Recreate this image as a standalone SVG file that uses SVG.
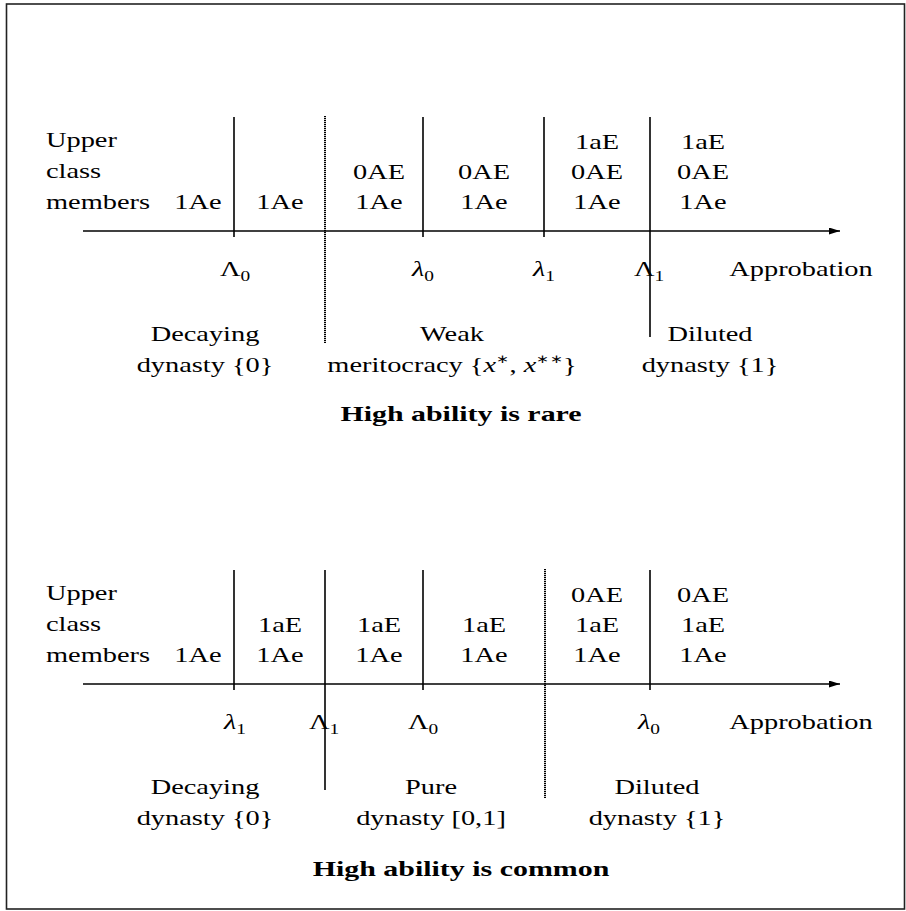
<svg xmlns="http://www.w3.org/2000/svg" width="906" height="911" viewBox="0 0 906 911">
<defs>
<style>
text{font-family:"Liberation Serif","Times New Roman",serif;font-size:22px;fill:#000;}
.c{text-anchor:middle;}
.b{font-weight:bold;}
.i{font-style:italic;}
.sub{font-size:15px;}
.sup{font-size:12px;}
.ln{stroke:#000;stroke-width:1.6;fill:none;}
.dot{stroke:#000;stroke-width:2;fill:none;stroke-dasharray:1.2 0.8;}
.ax{stroke:#000;stroke-width:1.6;fill:none;marker-end:url(#arr);}
</style>
<marker id="arr" markerUnits="userSpaceOnUse" markerWidth="12" markerHeight="8" refX="11" refY="3.5" orient="auto">
<path d="M0,0 L11,3.5 L0,7 z" fill="#000"/>
</marker>
</defs>
<rect x="6.5" y="4" width="898" height="905" fill="#fff" stroke="#222" stroke-width="1.6"/>

<g id="panel-rare">
<g id="connectors-rare">
<line class="ax" x1="83" y1="231" x2="840" y2="231"/>
<line class="ln" x1="234" y1="117" x2="234" y2="237"/>
<line class="dot" x1="325" y1="116" x2="325" y2="343"/>
<line class="ln" x1="423" y1="117" x2="423" y2="237"/>
<line class="ln" x1="544" y1="117" x2="544" y2="237"/>
<line class="ln" x1="650" y1="117" x2="650" y2="337"/>
</g>
<g id="labels-rare">
<text transform="matrix(1.29 0 0 1 46 147)">Upper</text>
<text transform="matrix(1.29 0 0 1 46 178)">class</text>
<text transform="matrix(1.29 0 0 1 46 209)">members</text>
<text class="c" transform="matrix(1.29 0 0 1 198 209)">1Ae</text>
<text class="c" transform="matrix(1.29 0 0 1 280 209)">1Ae</text>
<text class="c" transform="matrix(1.29 0 0 1 379 179)">0AE</text>
<text class="c" transform="matrix(1.29 0 0 1 379 209)">1Ae</text>
<text class="c" transform="matrix(1.29 0 0 1 484 179)">0AE</text>
<text class="c" transform="matrix(1.29 0 0 1 484 209)">1Ae</text>
<text class="c" transform="matrix(1.29 0 0 1 597 149)">1aE</text>
<text class="c" transform="matrix(1.29 0 0 1 597 179)">0AE</text>
<text class="c" transform="matrix(1.29 0 0 1 597 209)">1Ae</text>
<text class="c" transform="matrix(1.29 0 0 1 703 149)">1aE</text>
<text class="c" transform="matrix(1.29 0 0 1 703 179)">0AE</text>
<text class="c" transform="matrix(1.29 0 0 1 703 209)">1Ae</text>
<text class="c" transform="matrix(1.29 0 0 1 235 276)">Λ<tspan class="sub" dy="5">0</tspan></text>
<text class="c" transform="matrix(1.29 0 0 1 423 276)"><tspan class="i">λ</tspan><tspan class="sub" dy="5">0</tspan></text>
<text class="c" transform="matrix(1.29 0 0 1 544 276)"><tspan class="i">λ</tspan><tspan class="sub" dy="5">1</tspan></text>
<text class="c" transform="matrix(1.29 0 0 1 649 276)">Λ<tspan class="sub" dy="5">1</tspan></text>
<text class="c" transform="matrix(1.29 0 0 1 801 276)">Approbation</text>
<text class="c" transform="matrix(1.29 0 0 1 205 341)">Decaying</text>
<text class="c" transform="matrix(1.29 0 0 1 205 372)">dynasty {0}</text>
<text class="c" transform="matrix(1.29 0 0 1 452 341)">Weak</text>
<text class="c" transform="matrix(1.29 0 0 1 452 372)">meritocracy {<tspan class="i">x</tspan><tspan class="sup" dy="-9">∗</tspan><tspan dy="9">, </tspan><tspan class="i">x</tspan><tspan class="sup" dy="-9">∗∗</tspan><tspan dy="9">}</tspan></text>
<text class="c" transform="matrix(1.29 0 0 1 710 341)">Diluted</text>
<text class="c" transform="matrix(1.29 0 0 1 710 372)">dynasty {1}</text>
<text class="c b" transform="matrix(1.36 0 0 1 461 421)">High ability is rare</text>
</g>
</g>

<g id="panel-common">
<g id="connectors-common">
<line class="ax" x1="83" y1="684" x2="840" y2="684"/>
<line class="ln" x1="234" y1="570" x2="234" y2="690"/>
<line class="ln" x1="325" y1="570" x2="325" y2="790"/>
<line class="ln" x1="423" y1="570" x2="423" y2="690"/>
<line class="dot" x1="545" y1="569" x2="545" y2="798"/>
<line class="ln" x1="650" y1="570" x2="650" y2="690"/>
</g>
<g id="labels-common">
<text transform="matrix(1.29 0 0 1 46 600)">Upper</text>
<text transform="matrix(1.29 0 0 1 46 631)">class</text>
<text transform="matrix(1.29 0 0 1 46 662)">members</text>
<text class="c" transform="matrix(1.29 0 0 1 198 662)">1Ae</text>
<text class="c" transform="matrix(1.29 0 0 1 280 632)">1aE</text>
<text class="c" transform="matrix(1.29 0 0 1 280 662)">1Ae</text>
<text class="c" transform="matrix(1.29 0 0 1 379 632)">1aE</text>
<text class="c" transform="matrix(1.29 0 0 1 379 662)">1Ae</text>
<text class="c" transform="matrix(1.29 0 0 1 484 632)">1aE</text>
<text class="c" transform="matrix(1.29 0 0 1 484 662)">1Ae</text>
<text class="c" transform="matrix(1.29 0 0 1 597 602)">0AE</text>
<text class="c" transform="matrix(1.29 0 0 1 597 632)">1aE</text>
<text class="c" transform="matrix(1.29 0 0 1 597 662)">1Ae</text>
<text class="c" transform="matrix(1.29 0 0 1 703 602)">0AE</text>
<text class="c" transform="matrix(1.29 0 0 1 703 632)">1aE</text>
<text class="c" transform="matrix(1.29 0 0 1 703 662)">1Ae</text>
<text class="c" transform="matrix(1.29 0 0 1 235 729)"><tspan class="i">λ</tspan><tspan class="sub" dy="5">1</tspan></text>
<text class="c" transform="matrix(1.29 0 0 1 324 729)">Λ<tspan class="sub" dy="5">1</tspan></text>
<text class="c" transform="matrix(1.29 0 0 1 423 729)">Λ<tspan class="sub" dy="5">0</tspan></text>
<text class="c" transform="matrix(1.29 0 0 1 649 729)"><tspan class="i">λ</tspan><tspan class="sub" dy="5">0</tspan></text>
<text class="c" transform="matrix(1.29 0 0 1 801 729)">Approbation</text>
<text class="c" transform="matrix(1.29 0 0 1 205 794)">Decaying</text>
<text class="c" transform="matrix(1.29 0 0 1 205 825)">dynasty {0}</text>
<text class="c" transform="matrix(1.29 0 0 1 431 794)">Pure</text>
<text class="c" transform="matrix(1.29 0 0 1 431 825)">dynasty [0,1]</text>
<text class="c" transform="matrix(1.29 0 0 1 657 794)">Diluted</text>
<text class="c" transform="matrix(1.29 0 0 1 657 825)">dynasty {1}</text>
<text class="c b" transform="matrix(1.36 0 0 1 461 876)">High ability is common</text>
</g>
</g>
</svg>
